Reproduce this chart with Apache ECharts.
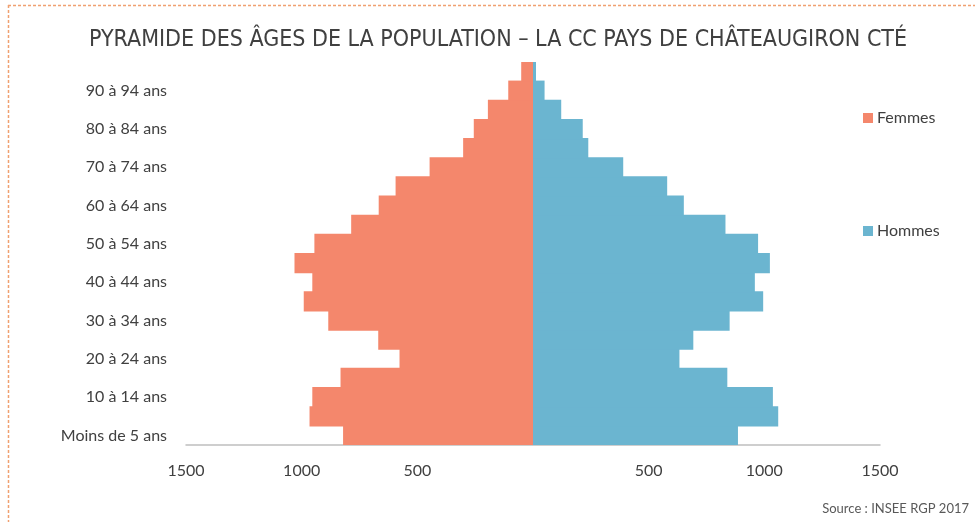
<!DOCTYPE html>
<html>
<head>
<meta charset="utf-8">
<script src="https://cdn.jsdelivr.net/npm/echarts@6/dist/echarts.min.js"></script>
<style>
  html, body { margin: 0; padding: 0; background: #ffffff; }
  #chart { width: 975px; height: 522px; }
</style>
</head>
<body>
<div id="chart"></div>
<script>
// Age groups, youngest at the bottom
const ageGroups = [
  'Moins de 5 ans', '5 à 9 ans', '10 à 14 ans', '15 à 19 ans', '20 à 24 ans',
  '25 à 29 ans', '30 à 34 ans', '35 à 39 ans', '40 à 44 ans', '45 à 49 ans',
  '50 à 54 ans', '55 à 59 ans', '60 à 64 ans', '65 à 69 ans', '70 à 74 ans',
  '75 à 79 ans', '80 à 84 ans', '85 à 89 ans', '90 à 94 ans', '95 ans et plus'
];
const femmes = [821, 966, 954, 832, 577, 669, 885, 991, 954, 1031,
                945, 786, 667, 594, 447, 302, 256, 195, 107, 51];
const hommes = [886, 1060, 1037, 840, 633, 693, 850, 995, 959, 1024,
                973, 832, 652, 580, 390, 239, 215, 122, 50, 13];
const xTicks = [-1500, -1000, -500, 0, 500, 1000, 1500];

const FONT = 'Lato, "Open Sans", sans-serif';
const FEMMES_COLOR = '#f4876c';
const HOMMES_COLOR = '#6bb5d0';
const chart = echarts.init(document.getElementById('chart'), null, { renderer: 'canvas' });

chart.setOption({
  backgroundColor: '#ffffff',
  animation: false,
  title: {
    text: 'PYRAMIDE DES ÂGES DE LA POPULATION – LA CC PAYS DE CHÂTEAUGIRON CTÉ',
    left: 493,
    top: 24,
    textAlign: 'center',
    textStyle: {
      fontFamily: '"Liberation Sans Narrow", "DejaVu Sans Condensed", sans-serif',
      fontWeight: 'normal',
      fontSize: 23,
      color: '#404040'
    }
  },
  legend: [
    {
      data: ['Femmes'], left: 863, top: 110, orient: 'vertical', padding: 0,
      icon: 'rect', itemWidth: 10, itemHeight: 10,
      textStyle: { fontFamily: FONT, fontSize: 16, color: '#404040', padding: [0, 0, 0, -1] }
    },
    {
      data: ['Hommes'], left: 863, top: 223, orient: 'vertical', padding: 0,
      icon: 'rect', itemWidth: 10, itemHeight: 10,
      textStyle: { fontFamily: FONT, fontSize: 16, color: '#404040', padding: [0, 0, 0, -1] }
    }
  ],
  grid: { left: 186, right: 95, top: 62, bottom: 77, containLabel: false },
  xAxis: {
    type: 'value',
    min: xTicks[0],
    max: xTicks[xTicks.length - 1],
    interval: 500,
    axisLine: { show: true, lineStyle: { color: '#bfbfbf', width: 1.5 } },
    axisTick: { show: false },
    splitLine: { show: false },
    axisLabel: {
      margin: 18,
      fontFamily: FONT, fontSize: 16, color: '#404040',
      formatter: v => (v === 0 ? '' : String(Math.abs(v)))
    }
  },
  yAxis: {
    type: 'category',
    data: ageGroups,
    axisLine: { show: false, onZero: false },
    axisTick: { show: false },
    axisLabel: {
      interval: 1,
      margin: 19,
      fontFamily: FONT, fontSize: 16, color: '#404040'
    }
  },
  series: [
    {
      name: 'Femmes',
      type: 'bar',
      stack: 'pyramide',
      barWidth: '106%',
      itemStyle: { color: FEMMES_COLOR },
      data: femmes.map(v => -v)
    },
    {
      name: 'Hommes',
      type: 'bar',
      stack: 'pyramide',
      barWidth: '106%',
      itemStyle: { color: HOMMES_COLOR },
      data: hommes
    }
  ],
  graphic: [
    // dashed frame along the top and left edges
    {
      type: 'line', silent: true,
      shape: { x1: 8, y1: 5.5, x2: 975, y2: 5.5 },
      style: { stroke: '#f0a070', lineWidth: 1.5, lineDash: [3, 2] }
    },
    {
      type: 'line', silent: true,
      shape: { x1: 8.5, y1: 5, x2: 8.5, y2: 522 },
      style: { stroke: '#f0a070', lineWidth: 1.5, lineDash: [3, 2] }
    },
    {
      type: 'text', right: 6, top: 502,
      style: {
        text: 'Source : INSEE RGP 2017',
        font: '13px ' + FONT,
        fill: '#595959'
      }
    }
  ]
});
</script>
</body>
</html>
